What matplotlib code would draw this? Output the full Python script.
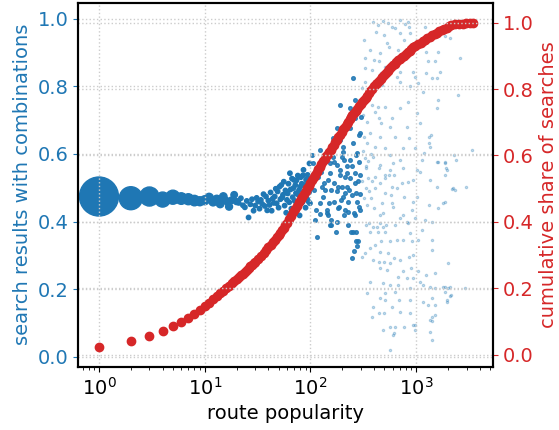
import numpy as np
import matplotlib.pyplot as plt

BLUE = '#1f77b4'
RED = '#d62728'

# routes with popularity 1..100 (every value occurs)
pop_head = list(range(1, 101))
combo_head = [
    0.474, 0.469, 0.474, 0.465, 0.472, 0.468, 0.466, 0.462, 0.460, 0.463,
    0.471, 0.458, 0.466, 0.452, 0.474, 0.461, 0.444, 0.463, 0.479, 0.459,
    0.455, 0.469, 0.448, 0.442, 0.461, 0.412, 0.451, 0.466, 0.432, 0.447,
    0.470, 0.459, 0.438, 0.464, 0.452, 0.481, 0.446, 0.474, 0.433, 0.462,
    0.449, 0.486, 0.432, 0.468, 0.455, 0.474, 0.497, 0.454, 0.489, 0.441,
    0.503, 0.466, 0.508, 0.471, 0.479, 0.518, 0.447, 0.492, 0.426, 0.464,
    0.483, 0.512, 0.457, 0.543, 0.495, 0.438, 0.527, 0.472, 0.499, 0.523,
    0.461, 0.508, 0.484, 0.522, 0.449, 0.536, 0.479, 0.493, 0.418, 0.503,
    0.531, 0.472, 0.512, 0.457, 0.537, 0.553, 0.489, 0.508, 0.484, 0.441,
    0.524, 0.496, 0.467, 0.538, 0.513, 0.459, 0.486, 0.572, 0.454, 0.528,
]
# number of routes for the most common popularities
routes_head = [2390, 830, 570, 355, 310, 210, 190, 172, 127, 127,
               112, 100, 100, 88, 88, 76, 76, 67, 67, 58]

# popularity 100..300
pop_mid = [
    178, 190, 237, 254, 165, 205, 123, 143, 164, 197,
    106, 153, 179, 206, 238, 246, 264, 118, 154, 191,
    220, 294, 236, 103, 189, 265, 263, 239, 293, 255,
    204, 272, 221, 166, 192, 212, 167, 198, 222, 266,
    180, 213, 247, 228, 273, 183, 214, 295, 207, 262,
    177, 229, 253, 176, 152, 168, 193, 110, 116, 122,
    156, 148, 158, 240, 271, 245, 267, 284, 275, 261,
    128, 142, 147, 132, 124, 137, 119, 108, 101, 107,
    125, 150, 114, 133, 155, 181, 203, 234, 270, 291,
    187, 226, 258, 144, 286, 299, 278, 282, 288, 297,
]
combo_mid = [
    0.676, 0.642, 0.736, 0.824, 0.647, 0.622, 0.612, 0.602, 0.592, 0.592,
    0.573, 0.573, 0.568, 0.582, 0.582, 0.563, 0.543, 0.548, 0.543, 0.538,
    0.543, 0.538, 0.528, 0.597, 0.745, 0.760, 0.706, 0.676, 0.662, 0.632,
    0.607, 0.597, 0.563, 0.577, 0.553, 0.533, 0.513, 0.503, 0.503, 0.513,
    0.489, 0.484, 0.479, 0.459, 0.459, 0.439, 0.434, 0.434, 0.420, 0.420,
    0.400, 0.390, 0.370, 0.370, 0.390, 0.459, 0.464, 0.405, 0.355, 0.423,
    0.403, 0.420, 0.390, 0.370, 0.341, 0.291, 0.370, 0.341, 0.326, 0.314,
    0.503, 0.425, 0.523, 0.474, 0.454, 0.494, 0.533, 0.494, 0.518, 0.543,
    0.548, 0.454, 0.434, 0.513, 0.494, 0.503, 0.474, 0.494, 0.484, 0.444,
    0.444, 0.429, 0.425, 0.434, 0.655, 0.710, 0.603, 0.520, 0.575, 0.480,
]

# rare routes, popularity above 300
pop_tail = [
    393, 440, 487, 546, 596, 704, 785, 844, 1214, 318,
    414, 492, 528, 631, 708, 760, 850, 875, 366, 455,
    550, 680, 328, 396, 444, 508, 380, 331, 470, 700,
    656, 936, 977, 305, 326, 473, 711, 880, 1050, 1170,
    324, 383, 437, 511, 408, 697, 841, 1020, 315, 340,
    446, 467, 585, 566, 813, 321, 366, 452, 628, 847,
    1310, 343, 405, 505, 745, 981, 330, 390, 569, 706,
    458, 338, 563, 503, 1876, 2092, 1240, 1600, 1305, 1509,
    2601, 1683, 1245, 1400, 1570, 2510, 1610, 1590, 1089, 1395,
    1315, 1353, 3400, 1175, 2300, 1620, 1880, 1130, 1900, 2400,
    2310, 2950, 1800, 2200, 1990, 1870, 2095, 2900, 1950, 2150,
    333, 442, 610, 612, 548, 748, 1023, 1092, 1575, 1878,
    1955, 1873, 410, 509, 742, 846, 940, 1356, 1566, 2250,
    587, 659, 456, 407, 355, 507, 583, 762, 1018, 939,
    1312, 1885, 1625, 471, 589, 608, 490, 454, 905, 757,
    703, 975, 1210, 1420, 815, 633, 459, 357, 394, 488,
    843, 368, 439, 510, 309, 329, 365, 409, 469, 567,
    655, 759, 877, 907, 1052, 1135, 1423, 1418, 453, 545,
    611, 705, 848, 933, 392, 441, 493, 565, 457, 527,
    746, 904, 1048, 1236, 937, 812, 681, 1088, 1511, 364,
    491, 564, 679, 873, 506, 341, 630, 1168, 1350, 1507,
    1803, 2005, 1875, 2090, 504, 683, 876, 1172, 1309, 1421,
    1948, 395, 586, 702, 872, 443, 381, 501, 1505, 1352,
    1425, 562, 632, 763, 976, 979, 489, 613, 1355, 1427,
    571, 451, 938, 1419, 1512, 609, 332, 430, 520, 310,
    320, 335, 345, 352, 372, 385, 398, 347, 312, 375,
]
combo_tail = [
    0.991, 0.982, 0.994, 0.988, 0.976, 0.997, 0.985, 0.991, 0.977, 0.938,
    0.962, 0.953, 0.928, 0.972, 0.958, 0.938, 0.977, 0.958, 0.908, 0.898,
    0.918, 0.908, 0.884, 0.879, 0.874, 0.859, 0.849, 0.854, 0.839, 0.844,
    0.829, 0.844, 0.829, 0.795, 0.814, 0.805, 0.814, 0.800, 0.810, 0.785,
    0.760, 0.745, 0.740, 0.740, 0.725, 0.736, 0.755, 0.721, 0.716, 0.696,
    0.706, 0.691, 0.706, 0.681, 0.681, 0.651, 0.662, 0.651, 0.651, 0.647,
    0.651, 0.632, 0.622, 0.617, 0.617, 0.617, 0.587, 0.592, 0.597, 0.582,
    0.568, 0.563, 0.553, 0.538, 0.948, 0.943, 0.903, 0.903, 0.874, 0.874,
    0.884, 0.844, 0.839, 0.824, 0.824, 0.775, 0.760, 0.736, 0.691, 0.656,
    0.632, 0.622, 0.612, 0.602, 0.597, 0.577, 0.573, 0.582, 0.558, 0.582,
    0.494, 0.503, 0.454, 0.496, 0.276, 0.207, 0.205, 0.203, 0.168, 0.183,
    0.558, 0.558, 0.573, 0.538, 0.538, 0.558, 0.553, 0.548, 0.577, 0.577,
    0.553, 0.538, 0.533, 0.528, 0.513, 0.518, 0.523, 0.523, 0.503, 0.499,
    0.503, 0.499, 0.513, 0.499, 0.489, 0.484, 0.479, 0.474, 0.474, 0.459,
    0.449, 0.459, 0.439, 0.454, 0.454, 0.444, 0.425, 0.420, 0.434, 0.420,
    0.410, 0.410, 0.405, 0.400, 0.400, 0.390, 0.395, 0.395, 0.385, 0.385,
    0.395, 0.370, 0.370, 0.370, 0.296, 0.306, 0.321, 0.331, 0.341, 0.341,
    0.345, 0.345, 0.365, 0.341, 0.345, 0.375, 0.345, 0.316, 0.311, 0.306,
    0.291, 0.286, 0.296, 0.301, 0.286, 0.281, 0.281, 0.277, 0.262, 0.257,
    0.252, 0.262, 0.252, 0.242, 0.232, 0.232, 0.237, 0.222, 0.247, 0.222,
    0.217, 0.212, 0.212, 0.203, 0.188, 0.188, 0.192, 0.212, 0.207, 0.203,
    0.207, 0.203, 0.192, 0.178, 0.168, 0.168, 0.168, 0.163, 0.153, 0.173,
    0.163, 0.148, 0.148, 0.133, 0.129, 0.129, 0.118, 0.129, 0.124, 0.109,
    0.104, 0.089, 0.089, 0.089, 0.094, 0.079, 0.079, 0.069, 0.074, 0.049,
    0.018, 0.173, 0.094, 0.118, 0.153, 0.064, 0.390, 0.385, 0.390, 0.520,
    0.470, 0.500, 0.450, 0.530, 0.470, 0.520, 0.440, 0.580, 0.610, 0.600,
]

# cumulative share of searches up to a given popularity
red_pop = [
    1, 2, 3, 4, 5, 6, 7, 8, 9, 10,
    11, 12, 13, 14, 15, 16, 17, 18, 19, 20,
    21, 22, 23, 24, 25, 26, 27, 28, 29, 30,
    32, 34, 36, 38, 40, 42, 44, 46, 48, 50,
    52, 54, 56, 58, 60, 63, 66, 69, 72, 75,
    78, 81, 84, 87, 90, 93, 96, 99, 104, 107,
    111, 115, 119, 123, 127, 132, 136, 141, 146, 150,
    155, 160, 166, 172, 178, 184, 191, 198, 205, 212,
    220, 228, 236, 243, 250, 259, 268, 278, 288, 298,
    309, 320, 332, 344, 357, 370, 384, 400, 415, 430,
    446, 463, 480, 498, 517, 536, 556, 577, 600, 625,
    651, 678, 706, 736, 766, 798, 832, 866, 902, 940,
    980, 1050, 1100, 1160, 1220, 1280, 1350, 1420, 1500, 1580,
    1660, 1750, 1840, 1940, 2040, 2150, 2330, 2540, 2780, 2960,
    3230, 3460,
]
cum_share = [
    0.024, 0.040, 0.057, 0.071, 0.086, 0.098, 0.111, 0.123, 0.135, 0.146,
    0.157, 0.167, 0.176, 0.185, 0.193, 0.201, 0.208, 0.215, 0.221, 0.227,
    0.233, 0.239, 0.244, 0.250, 0.255, 0.261, 0.266, 0.271, 0.276, 0.280,
    0.289, 0.298, 0.307, 0.316, 0.323, 0.331, 0.339, 0.346, 0.354, 0.361,
    0.368, 0.376, 0.383, 0.390, 0.396, 0.408, 0.419, 0.429, 0.440, 0.449,
    0.459, 0.468, 0.476, 0.485, 0.493, 0.501, 0.508, 0.516, 0.527, 0.534,
    0.542, 0.550, 0.558, 0.566, 0.573, 0.582, 0.589, 0.597, 0.605, 0.611,
    0.618, 0.625, 0.633, 0.641, 0.648, 0.655, 0.663, 0.671, 0.679, 0.686,
    0.694, 0.702, 0.709, 0.716, 0.722, 0.728, 0.735, 0.741, 0.748, 0.754,
    0.761, 0.767, 0.774, 0.780, 0.787, 0.794, 0.800, 0.808, 0.814, 0.819,
    0.825, 0.831, 0.836, 0.842, 0.848, 0.854, 0.859, 0.865, 0.871, 0.876,
    0.881, 0.886, 0.891, 0.896, 0.901, 0.906, 0.911, 0.916, 0.921, 0.926,
    0.931, 0.936, 0.940, 0.945, 0.949, 0.953, 0.958, 0.962, 0.966, 0.970,
    0.974, 0.977, 0.981, 0.985, 0.989, 0.992, 0.995, 0.996, 0.997, 0.998,
    0.999, 1.000,
]

FS = 14

# marker area follows the number of routes for the common popularities
sizes = np.full(len(pop_head), 10.0)
sizes[:len(routes_head)] = np.array(routes_head) * 0.33

fig, ax = plt.subplots(figsize=(5.59, 4.30), dpi=100)
fig.subplots_adjust(left=0.1395, right=0.8814, bottom=0.1472, top=0.9937)

ax.scatter(pop_tail, combo_tail, s=3, color=BLUE, alpha=0.28, linewidths=0.8)
ax.scatter(pop_mid, combo_mid, s=7, color=BLUE, alpha=0.85)
ax.scatter(pop_head, combo_head, s=sizes, color=BLUE)
ax.set_xscale('log')
ax.set_xlim(0.633, 5300)
ax.set_ylim(-0.030, 1.048)
ax.set_yticks([0.0, 0.2, 0.4, 0.6, 0.8, 1.0])
ax.set_xlabel('route popularity', fontsize=FS)
ax.set_ylabel('search results with combinations', color=BLUE, fontsize=FS)
ax.tick_params(axis='y', colors=BLUE, labelsize=FS)
ax.tick_params(axis='x', labelsize=FS)
ax.grid(True, linestyle=':', color='#cccccc', linewidth=1)

ax2 = ax.twinx()
ax2.scatter(red_pop, cum_share, s=36, color=RED)
ax2.set_ylim(-0.036, 1.060)
ax2.set_yticks([0.0, 0.2, 0.4, 0.6, 0.8, 1.0])
ax2.set_ylabel('cumulative share of searches', color=RED, fontsize=FS)
ax2.tick_params(axis='y', colors=RED, labelsize=FS)
ax2.grid(True, linestyle=':', color='#cccccc', linewidth=1)

for a in (ax, ax2):
    for sp in a.spines.values():
        sp.set_linewidth(1.5)

fig.savefig('out.png', dpi=100)
